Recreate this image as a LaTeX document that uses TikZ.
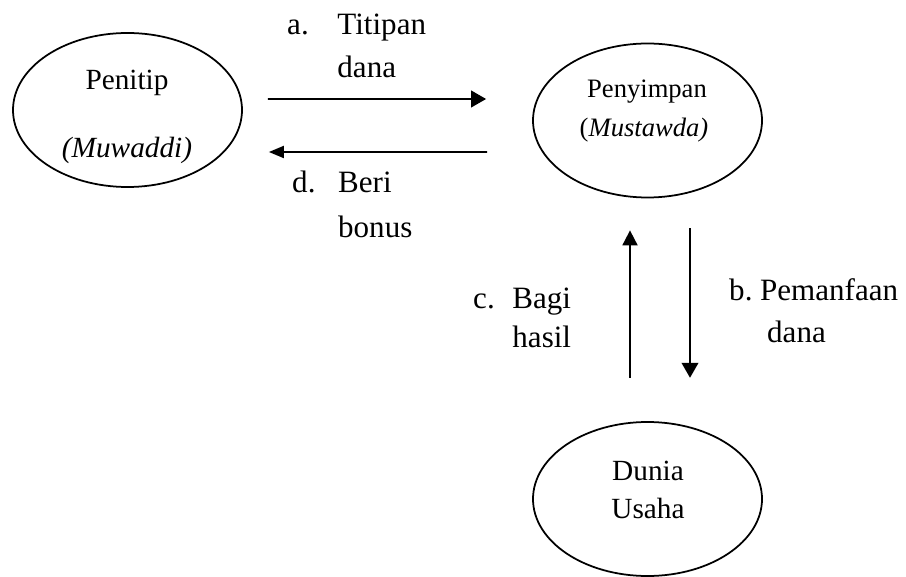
\documentclass[tikz,border=0pt]{standalone}
\usepackage{fontspec}
\setmainfont{Liberation Serif}
\usetikzlibrary{arrows.meta,shapes.geometric}

\begin{document}
\begin{tikzpicture}[x=0.3mm,y=-0.3mm,>={Triangle[length=4.5mm,width=5mm]},
    party/.style={draw,ellipse,line width=1.5pt,minimum width=68.7mm,minimum height=46.2mm,inner sep=0pt},
    inname/.style={anchor=base,inner sep=0pt,font=\fontsize{25pt}{30pt}\selectfont},
    flow/.style={->,line width=1.6pt},
    lbl/.style={anchor=base west,inner sep=0pt}]
  \useasboundingbox (0,0) rectangle (906,577);
  % the three parties
  \node[party] (pen) at (127.5,110) {};
  \node[party] (sim) at (647.5,120.5) {};
  \node[party] (dun) at (647.5,499) {};
  \node[inname] (pen-a) at (127,90) {Penitip};
  \node[inname] (pen-b) at (127,158) {\textit{(Muwaddi)}};
  \node[inname,font=\fontsize{22.7pt}{27pt}\selectfont] (sim-a) at (647,98) {Penyimpan};
  \node[inname,font=\fontsize{22.7pt}{27pt}\selectfont] (sim-b) at (644,137) {(\textit{Mustawda)}};
  \node[inname] (dun-a) at (648,480) {Dunia};
  \node[inname] (dun-b) at (648,518) {Usaha};
  % flows
  \draw[flow,shorten <=7.5mm,shorten >=13.8mm] ([yshift=3.3mm]pen.east) -- ([yshift=6.45mm]sim.west);
  \draw[flow,-{Triangle[length=4.5mm,width=3.6mm]},shorten <=13.5mm,shorten >=7.8mm] ([yshift=-9.45mm]sim.west) -- ([yshift=-12.6mm]pen.east);
  \draw[flow,shorten <=9mm,shorten >=13mm] ([xshift=12.75mm]sim.south) -- ([xshift=12.75mm]dun.north);
  \draw[flow,-{Triangle[length=4.5mm,width=4.5mm]},shorten <=13mm,shorten >=9.6mm] ([xshift=-5.25mm]dun.north) -- ([xshift=-5.25mm]sim.south);
  % labels
  \node[lbl,font=\fontsize{26.5pt}{36.7pt}\selectfont] (lab-a) at (287,35)
    {\begin{tabular}[t]{@{}l@{\hspace{8.6mm}}l@{}}a. & Titipan\\ & dana\end{tabular}};
  \node[lbl,font=\fontsize{26.5pt}{38.4pt}\selectfont] (lab-d) at (292,193)
    {\begin{tabular}[t]{@{}l@{\hspace{6.8mm}}l@{}}d. & Beri\\ & bonus\end{tabular}};
  \node[lbl,font=\fontsize{26.5pt}{33.3pt}\selectfont] (lab-c) at (473,308)
    {\begin{tabular}[t]{@{}l@{\hspace{5.3mm}}l@{}}c. & Bagi\\ & hasil\end{tabular}};
  \node[lbl,font=\fontsize{26.5pt}{35.9pt}\selectfont] (lab-b) at (729,300)
    {\begin{tabular}[t]{@{}l@{\hspace{2.3mm}}l@{}}b. & Pemanfaan\\ & \hspace{2.1mm}dana\end{tabular}};
\end{tikzpicture}
\end{document}
